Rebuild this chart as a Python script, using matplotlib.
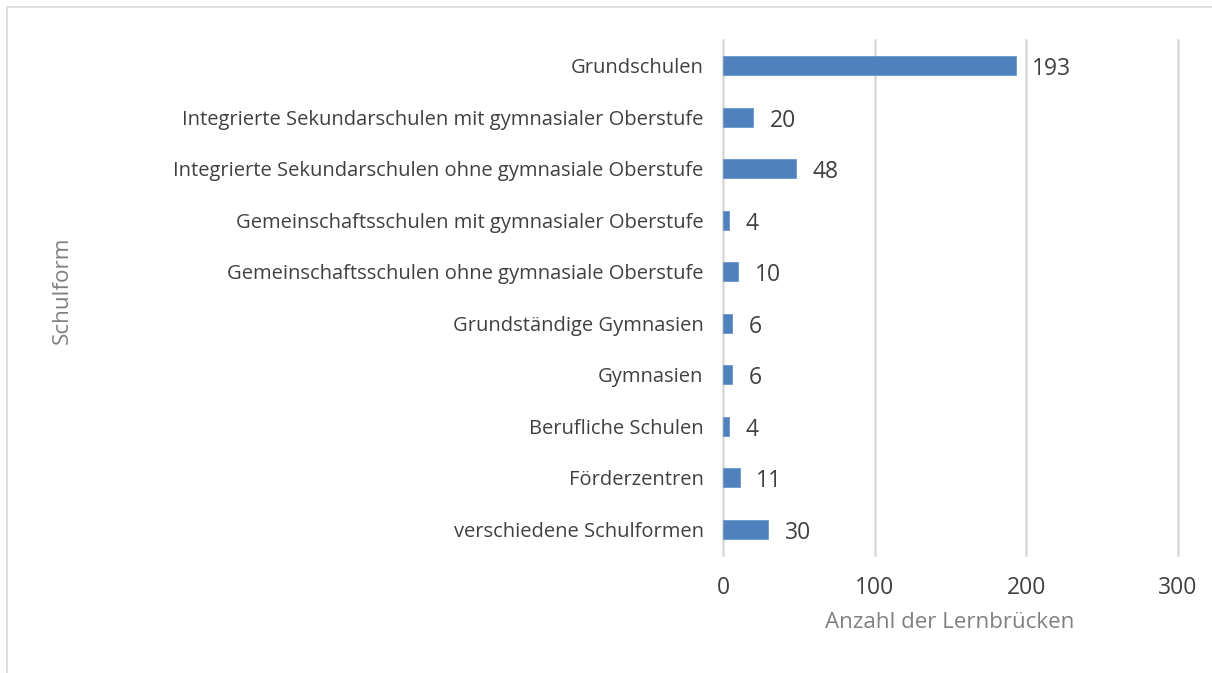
import matplotlib
matplotlib.use("Agg")
import matplotlib.pyplot as plt
from matplotlib.patches import Rectangle

# ===============================
# Data
# ===============================
schulformen = [
    "Grundschulen",
    "Integrierte Sekundarschulen mit gymnasialer Oberstufe",
    "Integrierte Sekundarschulen ohne gymnasiale Oberstufe",
    "Gemeinschaftsschulen mit gymnasialer Oberstufe",
    "Gemeinschaftsschulen ohne gymnasiale Oberstufe",
    "Grundständige Gymnasien",
    "Gymnasien",
    "Berufliche Schulen",
    "Förderzentren",
    "verschiedene Schulformen",
]
anzahl = [193, 20, 48, 4, 10, 6, 6, 4, 11, 30]
x_ticks = [0, 100, 200, 300]

plt.rcParams['font.family'] = ['Open Sans', 'DejaVu Sans']

# ===============================
# Figure
# ===============================
fig = plt.figure(figsize=(12.12, 6.73), dpi=100)
ax = fig.add_axes([0.5965, 0.1753, 0.3755, 0.7653])

# outer chart border (left/top visible)
fig.patches.append(Rectangle((7 / 1212, -0.05), 1.2, 1 - 7 / 673 + 0.05,
                             transform=fig.transFigure, fill=False,
                             edgecolor="#d9d9d9", linewidth=1.2))

pos = list(range(len(schulformen)))
ax.barh(pos, anzahl, height=0.36, color="#4f81bd", edgecolor="#6a96cc",
        linewidth=0.6, zorder=3)

for p, v in zip(pos, anzahl):
    ax.annotate(str(v), (v, p), xytext=(12, -2.5), textcoords="offset points",
                va="center", ha="left", fontsize=16.5, color="#404040")

ax.set_ylim(len(schulformen) - 0.5, -0.5)
ax.set_yticks(pos)
ax.set_yticklabels(schulformen, fontsize=14.5, color="#404040")
ax.set_xlim(0, 300)
ax.set_xticks(x_ticks)
ax.set_xticklabels([str(t) for t in x_ticks], fontsize=16.5, color="#404040")

ax.grid(axis="x", color="#d9d9d9", linewidth=1.8, zorder=0)
for gl in ax.get_xgridlines():
    gl.set_clip_on(False)
for s in ax.spines.values():
    s.set_visible(False)
ax.tick_params(axis="both", length=0)
ax.tick_params(axis="y", pad=14)
ax.tick_params(axis="x", pad=15)

fig.text(950 / 1212, 1 - 622 / 673, "Anzahl der Lernbrücken", ha="center",
         va="center", fontsize=16.1, color="#808080")
fig.text(62 / 1212, 1 - 290 / 673, "Schulform", ha="center", va="center",
         rotation=90, fontsize=16.2, color="#808080")

fig.savefig("out.png", dpi=100)
